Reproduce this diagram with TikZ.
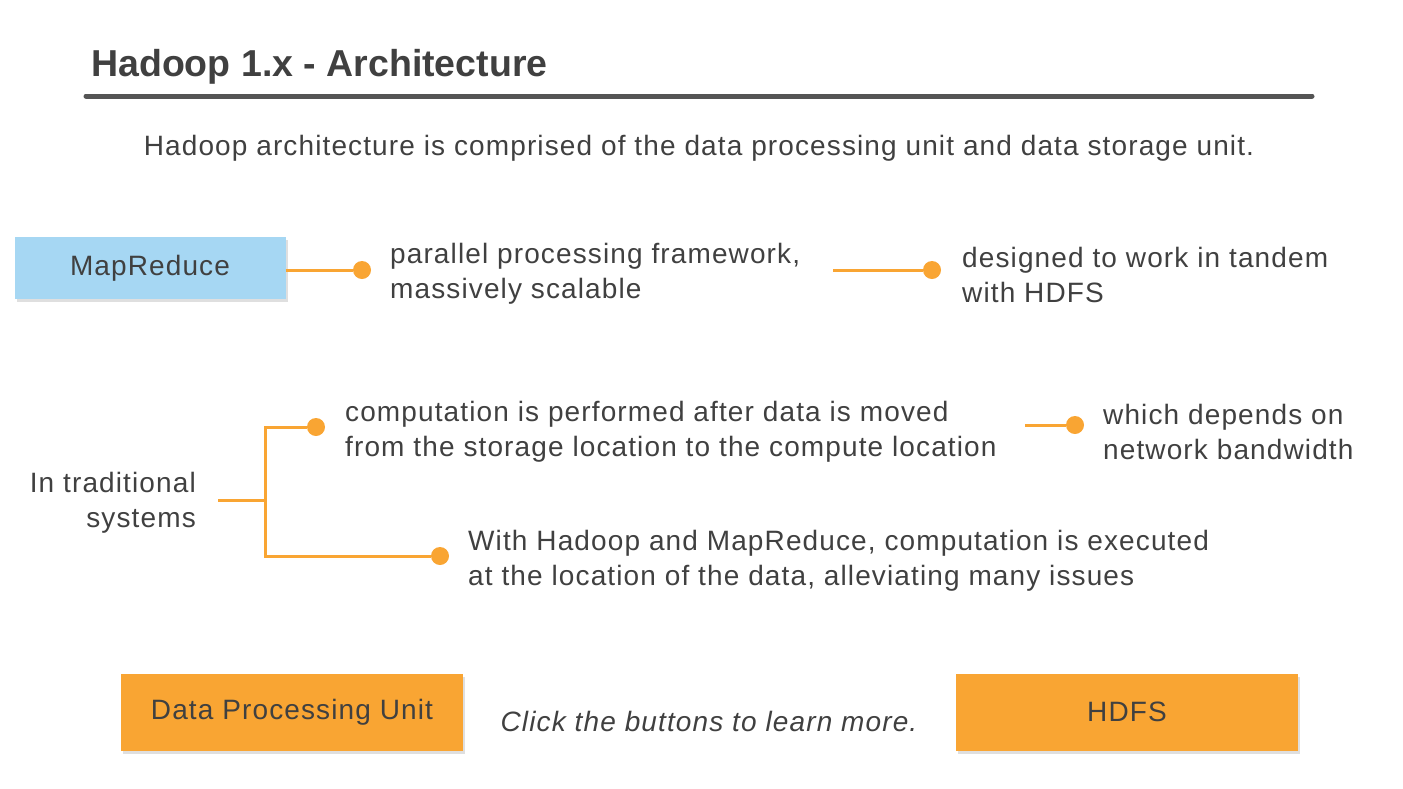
\documentclass[tikz,border=0pt]{standalone}
\usepackage{fontspec}
\setmainfont{Liberation Sans}
\newfontfamily\spacedfont[LetterSpace=4]{Liberation Sans}
\usetikzlibrary{shadows}
\definecolor{txtgray}{HTML}{404040}
\definecolor{rulegray}{HTML}{555555}
\definecolor{mrblue}{HTML}{A6D7F3}
\definecolor{hdorange}{HTML}{F9A533}
\begin{document}
\begin{tikzpicture}[x=1pt,y=-1pt]

\useasboundingbox (0,0) rectangle (1403,788);

\tikzset{Box/.style={rectangle,minimum width=271pt,minimum height=62pt,inner sep=0pt,
  text=txtgray,font=\spacedfont\fontsize{28}{30}\selectfont,
  drop shadow={shadow xshift=2pt,shadow yshift=-3pt,opacity=0.25}}}
\tikzset{Button/.style={Box,fill=hdorange,minimum width=342pt,minimum height=77pt}}
\tikzset{Dot/.style={circle,fill=hdorange,minimum size=18pt,inner sep=0pt}}
\tikzset{Note/.style={anchor=west,align=left,inner sep=0pt,text=txtgray,
  font=\spacedfont\fontsize{28}{35}\selectfont}}
\tikzset{Link/.style={draw=hdorange,line width=3pt}}

\node[anchor=base west,inner sep=0pt,text=txtgray,font=\fontsize{37.5}{40}\selectfont\bfseries]
  (title) at (91,76) {Hadoop 1.x - Architecture};
\draw[rulegray,line width=5pt,line cap=round,
  drop shadow={shadow xshift=1pt,shadow yshift=-2pt,opacity=0.3}] (86,96) -- (1312,96);
\node[anchor=base,inner sep=0pt,text=txtgray,font=\spacedfont\fontsize{28}{30}\selectfont]
  (intro) at (699,155) {Hadoop architecture is comprised of the data processing unit and data storage unit.};

\node[Box,fill=mrblue] (mr) at (150,268) {MapReduce};
\node[Dot] (d1) at (362,270) {};
\node[Note] (p1) at (390,274) {parallel processing framework,\\massively scalable};
\coordinate (s2) at (833,270);
\node[Dot] (d2) at (932,270) {};
\node[Note] (p2) at (962,275) {designed to work in tandem\\with HDFS};

\node[Note,anchor=east,align=right] (trad) at (196,503) {In traditional\\systems};
\coordinate (j) at (265,500);
\node[Dot] (d3) at (316,427) {};
\node[Note] (c1) at (345,432) {computation is performed after data is moved\\from the storage location to the compute location};
\coordinate (s4) at (1025,425);
\node[Dot] (d4) at (1075,425) {};
\node[Note] (c2) at (1103,432) {which depends on\\network bandwidth};
\node[Dot] (d5) at (440,556) {};
\node[Note] (c3) at (468,561) {With Hadoop and MapReduce, computation is executed\\at the location of the data, alleviating many issues};

\draw[Link] (mr.east |- d1) -- (d1);
\draw[Link] (s2) -- (d2);
\draw[Link] (trad.east |- j) ++(22,0) -- (j);
\draw[Link] (j) |- (d3);
\draw[Link] (j) |- (d5);
\draw[Link] (s4) -- (d4);

% buttons
\node[Button] (dpu) at (292,712) {Data Processing Unit};
\node[Button] (hdfs) at (1127,712) {HDFS};
\node[inner sep=0pt,text=txtgray,font=\spacedfont\fontsize{28}{30}\selectfont\itshape]
  (click) at (709,721) {Click the buttons to learn more.};

\end{tikzpicture}
\end{document}
